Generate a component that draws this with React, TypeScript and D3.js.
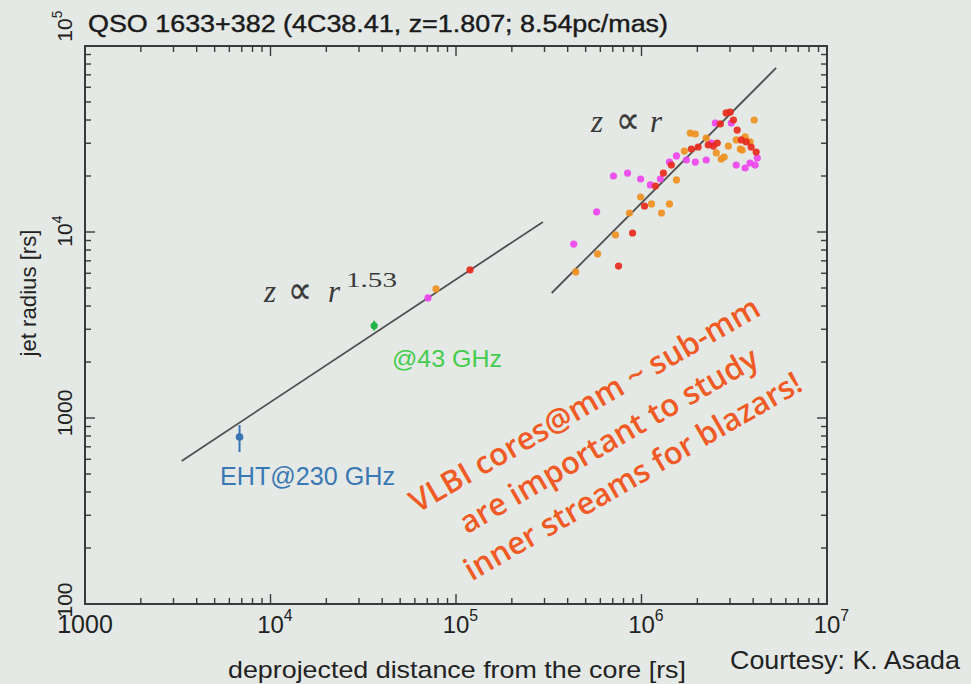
import React from 'react'
import * as d3 from 'd3'

// axis extents
const xDomain = [1000, 1e7]
const yDomain = [100, 1e5]
const xMajor = [1000, 1e4, 1e5, 1e6, 1e7]
const yMajor = [100, 1000, 1e4, 1e5]

// VLBI data, jet radius vs distance (rs)
const magentaX = [4.31e5, 5.73e5, 7.06e5, 8.41e5, 9.89e5, 1.117e6, 1.264e6, 1.415e6, 1.543e6, 1.746e6, 1.95e6, 2.234e6, 2.377e6, 2.5e6, 3.05e6, 3.24e6, 3.62e6, 3.85e6, 4.1e6, 4.21e6, 7.06e4]
const magentaY = [8610, 12830, 20000, 20750, 19270, 17900, 19270, 23770, 25650, 24380, 23770, 24380, 30060, 38550, 38550, 22910, 22080, 23500, 22910, 25000, 4420]

const orangeX = [4.42e5, 5.8e5, 7.24e5, 8.61e5, 9.89e5, 1.132e6, 1.282e6, 1.415e6, 1.543e6, 1.702e6, 1.833e6, 1.95e6, 2.234e6, 2.53e6, 2.69e6, 2.79e6, 2.94e6, 3.24e6, 3.41e6, 3.49e6, 3.62e6, 3.85e6, 4.05e6, 7.8e4]
const orangeY = [6100, 7620, 9640, 12650, 15420, 14160, 12650, 14160, 19050, 27230, 34040, 33650, 31990, 26610, 24660, 25280, 28970, 31260, 27920, 27600, 32430, 30480, 40000, 4940]

const redX = [7.52e5, 8.95e5, 1.038e6, 1.189e6, 1.312e6, 1.449e6, 1.857e6, 2.02e6, 2.29e6, 2.44e6, 2.56e6, 2.66e6, 2.86e6, 3.01e6, 3.13e6, 3.28e6, 3.45e6, 3.67e6, 3.9e6, 4.15e6, 1.19e5]
const redY = [6560, 9880, 13800, 17660, 20750, 22910, 27920, 28640, 29380, 28970, 30060, 38110, 43650, 44150, 40000, 35320, 31260, 30480, 28640, 26900, 6250]

// single points with error bars: [x, y, yLow, yHigh]
const eht = [6810, 791, 656, 916]
const vlba43 = [36200, 3130, 2950, 3330]

// power-law fits
const fitSteep = [[3320, 588], [2.94e5, 11330]]
const fitLinear = [[3.28e5, 4700], [5.32e6, 76200]]

const W = 971
const H = 684
const frame = { left: 85, right: 827, top: 46, bottom: 604 }
const sans = '"Liberation Sans", Arial, Helvetica, sans-serif'
const serif = '"Liberation Serif", "Times New Roman", serif'
const ink = '#222'

const minorTicks = (dom: number[]) => {
  const out: number[] = []
  for (let d = dom[0]; d < dom[1]; d *= 10) {
    for (let k = 2; k <= 9; k++) out.push(d * k)
  }
  return out
}

// "10" centred on the given point, exponent trailing after it
const Pow = ({ x, y, exp, size, rotate = false }: any) => {
  const half = size * 0.556
  const t = rotate ? `translate(${x} ${y}) rotate(-90)` : `translate(${x} ${y})`
  return (
    <text transform={t} x={-half} y={0} fontFamily={sans} fontSize={size} fill={ink}>
      10<tspan fontSize={size * 0.66} dy={-size * 0.5}>{exp}</tspan>
    </text>
  )
}

// proportional-to sign, drawn large like the TeX glyph
const Prop = ({ x, y }: any) => (
  <text x={x} y={y + 1} fontFamily='"DejaVu Sans", sans-serif' fontSize={38} textLength={24} lengthAdjust="spacingAndGlyphs" stroke="#3a3a3a" strokeWidth={0.3}>∝</text>
)

export default function App() {
  const x = d3.scaleLog().domain(xDomain).range([frame.left, frame.right])
  const y = d3.scaleLog().domain(yDomain).range([frame.bottom, frame.top])
  const line = d3.line<number[]>().x(d => x(d[0])).y(d => y(d[1]))

  const xMinor = minorTicks(xDomain)
  const yMinor = minorTicks(yDomain)
  const major = 10
  const minor = 6

  const dots = (xs: number[], ys: number[], color: string) =>
    xs.map((v, i) => <circle key={color + i} cx={x(v)} cy={y(ys[i])} r={3.6} fill={color} opacity={0.92} />)

  const yLab = 72

  return (
    <div style={{ position: 'absolute', left: 0, top: 0 }}>
      <svg width={W} height={H} style={{ display: 'block' }}>
        <rect width={W} height={H} fill="#e4e9e6" />
        <text x={88} y={32} fontFamily={sans} fontSize={23} fill="#1a1a1a" stroke="#1a1a1a" strokeWidth={0.4}
          textLength={580} lengthAdjust="spacingAndGlyphs">
          QSO 1633+382 (4C38.41, z=1.807; 8.54pc/mas)
        </text>

        {/* frame and ticks */}
        <rect x={frame.left} y={frame.top} width={frame.right - frame.left} height={frame.bottom - frame.top} fill="none" stroke="#3a3a3a" strokeWidth={2} />
        <g stroke="#3a3a3a" strokeWidth={1.4}>
          {[...xMajor.map(v => [v, major]), ...xMinor.map(v => [v, minor])].map(([v, len], i) => (
            <g key={'xt' + i}>
              <line x1={x(v)} x2={x(v)} y1={frame.bottom} y2={frame.bottom - len} />
              <line x1={x(v)} x2={x(v)} y1={frame.top} y2={frame.top + len} />
            </g>
          ))}
          {[...yMajor.map(v => [v, major]), ...yMinor.map(v => [v, minor])].map(([v, len], i) => (
            <g key={'yt' + i}>
              <line y1={y(v)} y2={y(v)} x1={frame.left} x2={frame.left + len} />
              <line y1={y(v)} y2={y(v)} x1={frame.right} x2={frame.right - len} />
            </g>
          ))}
        </g>

        {/* x tick labels */}
        <text x={x(1000)} y={633} textAnchor="middle" fontFamily={sans} fontSize={25} fill={ink}>1000</text>
        {xMajor.slice(1).map(v => (
          <Pow key={'xl' + v} x={x(v)} y={633} size={24} exp={Math.round(Math.log10(v))} />
        ))}
        {/* y tick labels */}
        <text transform={`translate(${yLab} ${y(100) - 4}) rotate(-90)`} textAnchor="middle" fontFamily={sans} fontSize={21} fill={ink}>100</text>
        <text transform={`translate(${yLab} ${y(1000) - 5}) rotate(-90)`} textAnchor="middle" fontFamily={sans} fontSize={21} fill={ink}>1000</text>
        <Pow x={yLab} y={y(1e4) + 3} exp={4} size={21} rotate />
        <Pow x={yLab} y={y(1e5) - 16} exp={5} size={21} rotate />

        {/* axis titles */}
        <text x={457} y={678} textAnchor="middle" fontFamily={sans} fontSize={24} fill={ink} textLength={458} lengthAdjust="spacingAndGlyphs">deprojected distance from the core [rs]</text>
        <text transform="translate(36 293) rotate(-90)" textAnchor="middle" fontFamily={sans} fontSize={22} fill={ink} textLength={127} lengthAdjust="spacingAndGlyphs">jet radius [rs]</text>
        <text x={960} y={669} textAnchor="end" fontFamily={sans} fontSize={25} fill={ink} textLength={230} lengthAdjust="spacingAndGlyphs">Courtesy: K. Asada</text>

        {/* fits */}
        <path d={line(fitSteep) || ''} stroke="#505050" strokeWidth={1.8} fill="none" />
        <path d={line(fitLinear) || ''} stroke="#505050" strokeWidth={1.8} fill="none" />

        {dots(magentaX, magentaY, '#ee44ee')}
        {dots(orangeX, orangeY, '#f09020')}
        {dots(redX, redY, '#e82a1c')}

        {/* error-bar points */}
        <line x1={x(eht[0])} x2={x(eht[0])} y1={y(eht[2])} y2={y(eht[3])} stroke="#3a74b4" strokeWidth={2} />
        <circle cx={x(eht[0])} cy={y(eht[1])} r={3.8} fill="#3a74b4" />
        <line x1={x(vlba43[0])} x2={x(vlba43[0])} y1={y(vlba43[2])} y2={y(vlba43[3])} stroke="#22b444" strokeWidth={2} />
        <circle cx={x(vlba43[0])} cy={y(vlba43[1])} r={3.6} fill="#22b444" />

        {/* power-law annotations */}
        <g fill="#3a3a3a">
          <text x={264} y={302} fontFamily={serif} fontStyle="italic" fontSize={31}>z</text>
          <Prop x={288} y={302} />
          <text x={328} y={302} fontFamily={serif} fontStyle="italic" fontSize={31}>r</text>
          <text x={346} y={287} fontFamily={serif} fontSize={22} textLength={51} lengthAdjust="spacingAndGlyphs">1.53</text>
          <text x={591} y={132} fontFamily={serif} fontStyle="italic" fontSize={31}>z</text>
          <Prop x={616} y={132} />
          <text x={650} y={132} fontFamily={serif} fontStyle="italic" fontSize={31}>r</text>
        </g>
        <text x={392} y={367} fontFamily={sans} fontSize={24} fill="#44cc4c" textLength={110} lengthAdjust="spacingAndGlyphs">@43 GHz</text>
        <text x={220} y={485} fontFamily={sans} fontSize={25} fill="#3a78b4" textLength={175} lengthAdjust="spacingAndGlyphs">EHT@230 GHz</text>

        <g transform="translate(609 441) rotate(-30)" fontFamily='"Open Sans", sans-serif' fontWeight={600} fontSize={31} fill="#f05a24" textAnchor="middle">
          <text x={-3} y={-33}>VLBI cores@mm ~ sub-mm</text>
          <text x={0} y={10}>are important to study</text>
          <text x={3} y={53}>inner streams for blazars!</text>
        </g>
      </svg>
    </div>
  )
}
